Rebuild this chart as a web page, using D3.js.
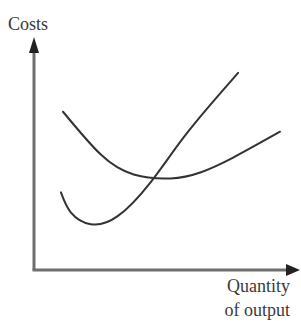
<!DOCTYPE html>
<html>
<head>
<meta charset="utf-8">
<script src="https://cdn.jsdelivr.net/npm/d3@7"></script>
<style>
  html, body { margin: 0; padding: 0; background: #fff; }
  text { font-family: "Liberation Serif", "DejaVu Serif", serif; fill: #3a3a3a; }
</style>
</head>
<body>
<svg id="chart" width="301" height="327"></svg>
<script>
// average cost curve (U shape), quantity vs cost, both on 0..100
const acQty  = [11.2, 25.8, 38.5, 52.7, 64.2, 76.9, 95];
const acCost = [69.1, 50.4, 41.7, 40, 42.6, 49.1, 60.4];

// marginal cost curve
const mcQty  = [10.4, 14.2, 21.9, 32.3, 45, 57.7, 70.8, 78.8];
const mcCost = [33.9, 25.2, 20, 23.5, 38.3, 57.8, 75.7, 86.1];

const axisLabels = {y: "Costs", x: ["Quantity", "of output"]};

const svg = d3.select("#chart");

const x = d3.scaleLinear().domain([0, 100]).range([34, 293]);
const y = d3.scaleLinear().domain([0, 100]).range([270, 41]);

const line = d3.line()
    .x(d => x(d[0]))
    .y(d => y(d[1]))
    .curve(d3.curveNatural);

function pairs(xs, ys) {
    return xs.map((v, i) => [v, ys[i]]);
}

// axes
const axisColor = "#6e6e6e";
svg.append("line")
    .attr("x1", x(0)).attr("y1", y(0))
    .attr("x2", x(0)).attr("y2", 50)
    .attr("stroke", axisColor).attr("stroke-width", 3);
svg.append("path")
    .attr("d", `M${x(0)},37 L${x(0) - 5},53 L${x(0) + 5},53 Z`)
    .attr("fill", "#222");

svg.append("line")
    .attr("x1", x(0) - 1.5).attr("y1", y(0))
    .attr("x2", 288).attr("y2", y(0))
    .attr("stroke", axisColor).attr("stroke-width", 3);
svg.append("path")
    .attr("d", `M300,${y(0)} L286,${y(0) - 6} L286,${y(0) + 6} Z`)
    .attr("fill", "#222");

// curves
svg.selectAll("path.curve")
    .data([pairs(acQty, acCost), pairs(mcQty, mcCost)])
    .join("path")
    .attr("class", "curve")
    .attr("d", line)
    .attr("fill", "none")
    .attr("stroke", "#333")
    .attr("stroke-width", 2)
    .attr("stroke-linecap", "round");

// labels
svg.append("text")
    .attr("x", 8).attr("y", 30)
    .attr("font-size", 18)
    .text(axisLabels.y);

svg.append("g")
    .selectAll("text")
    .data(axisLabels.x)
    .join("text")
    .attr("x", 290)
    .attr("y", (d, i) => 292 + i * 24)
    .attr("text-anchor", "end")
    .attr("font-size", 18)
    .text(d => d);
</script>
</body>
</html>
